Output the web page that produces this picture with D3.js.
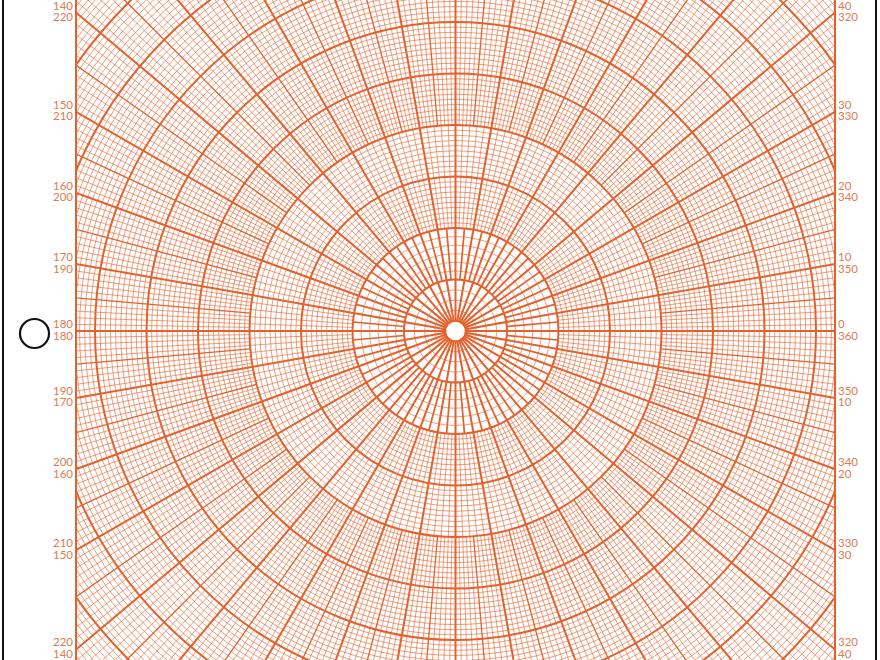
<!DOCTYPE html>
<html>
<head>
<meta charset="utf-8">
<script src="https://cdn.jsdelivr.net/npm/d3@7"></script>
<style>
  body { margin: 0; background: #fff; }
  svg { display: block; }
  .lbl { font-family: Lato, "Open Sans", sans-serif; font-size: 11.5px; fill: #dc7c52; }
</style>
</head>
<body>
<svg id="polar" width="880" height="660"></svg>
<script>
// rings: one band per radius unit, how many thin rings inside each band
var bandDivisions = [5, 6, 10, 10, 10, 10, 10, 10, 10, 10];
// spacing of the radial lines (degrees) inside each band
var bandRadialStep = [10, 5, 2, 2, 1, 1, 1, 1, 1, 1];
// angles (deg, counter-clockwise from east) where the side labels sit
var labelAngles = [40, 30, 20, 10, 0, -10, -20, -30, -40];
var leftUpper  = ["140", "150", "160", "170", "180", "190", "200", "210", "220"];
var leftLower  = ["220", "210", "200", "190", "180", "170", "160", "150", "140"];
var rightUpper = ["40", "30", "20", "10", "0", "350", "340", "330", "320"];
var rightLower = ["320", "330", "340", "350", "360", "10", "20", "30", "40"];

var svg = d3.select("svg#polar"),
	width = +svg.attr("width"),
	height = +svg.attr("height");

var cx = 455.5, cy = 331,
	gridLeft = 76, gridRight = 835;
var ink = "#e4602c";

var r = d3.scaleLinear().domain([0, bandDivisions.length]).range([0, 515]);
var a = d3.scaleLinear().domain([0, 360]).range([0, 2 * Math.PI]);

function pt(rad, deg) {
	return [cx + rad * Math.cos(a(deg)), cy - rad * Math.sin(a(deg))];
}

svg.append("defs").append("clipPath")
	.attr("id", "clip")
  .append("rect")
	.attr("x", gridLeft)
	.attr("y", -10)
	.attr("width", gridRight - gridLeft)
	.attr("height", height + 20);

var g = svg.append("g").attr("clip-path", "url(#clip)");

// thin rings
var thin = [];
bandDivisions.forEach(function(n, b) {
	for (var i = 1; i < n; i++) thin.push(b + i / n);
});
var innerR = 1 / bandDivisions[0];

// radial segments per band
var radials = [];
bandRadialStep.forEach(function(step, b) {
	var r0 = b === 0 ? innerR : b;
	for (var d = 0; d < 360; d += step) {
		var w = d % 10 === 0 ? 2 : (d % 5 === 0 ? (b === 1 ? 1.7 : 1.3) : 0.75);
		radials.push({r0: r0, r1: b + 1, deg: d, w: w});
	}
});

g.selectAll("line.rad")
	.data(radials.filter(function(d) { return d.w < 2; }))
  .enter().append("line")
	.attr("class", "rad")
	.attr("x1", function(d) { return pt(r(d.r0), d.deg)[0]; })
	.attr("y1", function(d) { return pt(r(d.r0), d.deg)[1]; })
	.attr("x2", function(d) { return pt(r(d.r1), d.deg)[0]; })
	.attr("y2", function(d) { return pt(r(d.r1), d.deg)[1]; })
	.attr("stroke", ink)
	.attr("stroke-opacity", function(d) { return d.w < 1 ? 0.8 : 1; })
	.attr("stroke-width", function(d) { return d.w; });

g.selectAll("circle.thin")
	.data(thin.filter(function(v) { return v > innerR + 1e-6; }))
  .enter().append("circle")
	.attr("class", "thin")
	.attr("cx", cx).attr("cy", cy)
	.attr("r", function(d) { return r(d); })
	.attr("fill", "none")
	.attr("stroke", ink)
	.attr("stroke-opacity", 0.8)
	.attr("stroke-width", 0.75);

// bold 10 degree radials, from the centre circle outwards
g.selectAll("line.major")
	.data(d3.range(0, 360, 10))
  .enter().append("line")
	.attr("class", "major")
	.attr("x1", function(d) { return pt(r(innerR), d)[0]; })
	.attr("y1", function(d) { return pt(r(innerR), d)[1]; })
	.attr("x2", function(d) { return pt(r(bandDivisions.length), d)[0]; })
	.attr("y2", function(d) { return pt(r(bandDivisions.length), d)[1]; })
	.attr("stroke", ink)
	.attr("stroke-width", 2);

// bold rings
g.selectAll("circle.major")
	.data([innerR].concat(d3.range(1, bandDivisions.length + 1)))
  .enter().append("circle")
	.attr("class", "major")
	.attr("cx", cx).attr("cy", cy)
	.attr("r", function(d) { return r(d); })
	.attr("fill", "none")
	.attr("stroke", ink)
	.attr("stroke-width", 2);

// grid side borders
svg.selectAll("line.edge")
	.data([gridLeft, gridRight])
  .enter().append("line")
	.attr("x1", function(d) { return d; }).attr("x2", function(d) { return d; })
	.attr("y1", 0).attr("y2", height)
	.attr("stroke", ink)
	.attr("stroke-width", 2);

// side labels
function labelY(deg) {
	return cy - (gridRight - cx) * Math.tan(a(deg));
}
var labels = svg.append("g");
labelAngles.forEach(function(deg, i) {
	var y = labelY(deg);
	labels.append("text").attr("class", "lbl").attr("text-anchor", "end")
		.attr("x", gridLeft - 3).attr("y", y - 3).text(leftUpper[i]);
	labels.append("text").attr("class", "lbl").attr("text-anchor", "end")
		.attr("x", gridLeft - 3).attr("y", y + 8.5).text(leftLower[i]);
	labels.append("text").attr("class", "lbl").attr("text-anchor", "start")
		.attr("x", gridRight + 3).attr("y", y - 3).text(rightUpper[i]);
	labels.append("text").attr("class", "lbl").attr("text-anchor", "start")
		.attr("x", gridRight + 3).attr("y", y + 8.5).text(rightLower[i]);
});

// sheet outline and punch hole
svg.append("rect")
	.attr("x", 3).attr("y", -20)
	.attr("width", 873).attr("height", height + 40)
	.attr("rx", 8)
	.attr("fill", "none")
	.attr("stroke", "#111")
	.attr("stroke-width", 2);

svg.append("circle")
	.attr("cx", 34.5).attr("cy", 333.5).attr("r", 14.5)
	.attr("fill", "none")
	.attr("stroke", "#111")
	.attr("stroke-width", 2.2);
</script>
</body>
</html>
